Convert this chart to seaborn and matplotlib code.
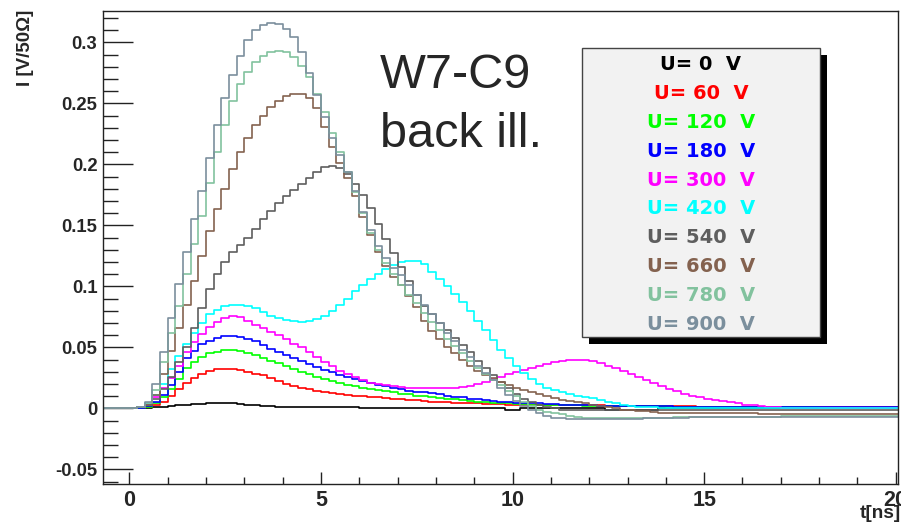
import numpy as np
import pandas as pd
import matplotlib
matplotlib.use("Agg")
import matplotlib.pyplot as plt
from matplotlib.patches import Rectangle
from matplotlib.ticker import MultipleLocator, FuncFormatter
import seaborn as sns

# Histogram bin centres (0.2 ns bins), time in ns
t_ns = np.round(-0.7 + 0.2 * np.arange(105), 2)

bias_V = [0, 60, 120, 180, 300, 420, 540, 660, 780, 900]
colors = ["#000000", "#ff0000", "#00ff00", "#0000ff", "#ff00ff",
          "#00ffff", "#5e5e5e", "#84624f", "#82c29e", "#7b8f9d"]

# Induced current per bin, in mV across 50 Ohm
i_0V = [0, 0, 0, 0,
        0, 0, 0.5, 1, 1.5, 2, 2.5, 3, 3.5, 3.5,
        4, 4, 4, 4, 3.5, 3, 2.5, 2, 2, 1.5,
        1.5, 1.5, 1, 1, 1, 1, 1, 1, 1, 1,
        0.5, 0.5, 0.5, 0.5, 0.5, 0.5, 0.5, 0.5, 0.5, 0.5,
        0.5, 0.5, 0.5, 0.5, 0.5, 0.5, 0.5, 0.5, 0.5, -1.5,
        -1.5, 0, 0.5, 0, 0, 0, 0, 0, 0, 0,
        0, 0, -1.5, -1.5, -1.5, -1.5, -1.5, -1.5, -1.5, 0,
        0, 0, 0, 0, 0, 0, 0, 0, 0, 0,
        0.5, 0.5, 0.5, 0.5, 0.5, 0, 0, 0, 0, 0,
        0, 0, 0, 0, 0, 0, 0, 0, 0, 0,
        0]
i_60V = [0, 0, 0, 0,
         0, 0, 1, 2.5, 5.5, 10, 15.5, 21, 25, 28,
         30.5, 32, 32.5, 32.5, 31.5, 30, 28.5, 27, 25, 22.5,
         20, 18, 16.5, 15.5, 14.5, 13.5, 12.5, 11.5, 11, 10.5,
         10, 9.5, 9, 8.5, 8, 7.5, 7, 6.5, 6, 5.5,
         5, 5, 4.5, 4.5, 4, 4, 3.5, 3.5, 3.5, 3,
         3, 3, 2.5, 2.5, 2.5, 2.5, 2.5, 2.5, 2.5, 2.5,
         2.5, 2.5, 2, 2, 2, 2, 2, 2, 2, 2,
         2, 2, 2, 2, 1.5, 1.5, 1.5, 1.5, 1.5, 1.5,
         1.5, 1.5, 1.5, 1.5, 1, 1, 1, 1, 1, 1,
         1, 1, 1, 1, 1, 1, 1, 1, 1, 1,
         1]
i_120V = [0, 0, 0, 0,
          0, 0.5, 1.5, 4, 9, 15.5, 24, 33, 38, 42.5,
          45, 46.5, 48, 48, 47, 45.5, 43.5, 41.5, 39, 37,
          35, 32.5, 30, 28, 26, 24, 22.5, 21, 19.5, 18,
          17, 16, 15, 14, 13, 12, 11.5, 10.5, 10, 9.5,
          8.5, 8, 7.5, 6.5, 6, 5.5, 5, 4.5, 4, 4,
          3.5, 3.5, 3, 3, 3, 2.5, 2.5, 2.5, 2.5, 2,
          2, 2, 2, 2, 2, 2, 2, 2, 2, 2,
          1.5, 1.5, 1.5, 1.5, 1.5, 1.5, 1.5, 1.5, 1.5, 1.5,
          1, 1, 1, 1, 1, 1, 1, 1, 1, 1,
          0.5, 0.5, 0.5, 0.5, 0.5, 0.5, 0.5, 0.5, 0.5, 0.5,
          0.5]
i_180V = [0, 0, 0, 0,
          0, 0.5, 2, 5, 11, 19, 30, 41, 47, 52.5,
          55.5, 58, 59.5, 59.5, 58.5, 57, 55, 52, 49, 46.5,
          44, 41.5, 39, 36.5, 34, 31.5, 29.5, 27.5, 25.5, 24,
          22.5, 21, 19.5, 18.5, 16.5, 15.5, 14.5, 13.5, 13, 12.5,
          11.5, 10.5, 9.5, 9, 8, 7.5, 7, 6, 5.5, 5,
          4.5, 4.5, 4, 4, 3.5, 3.5, 3, 3, 2.5, 2.5,
          2.5, 2, 2, 2, 2, 2, 2, 2, 2, 2,
          2, 1.5, 1.5, 1.5, 1.5, 1.5, 1.5, 1.5, 1.5, 1.5,
          1.5, 1.5, 1.5, 1.5, 1.5, 1, 1, 1, 1, 1,
          1, 1, 1, 1, 1, 1, 1, 1, 1, 1,
          1]
i_300V = [0, 0, 0, 0,
          0, 1, 3.5, 9, 17, 25, 35, 46, 54, 61,
          67, 71, 74, 75.5, 74.5, 72, 68.5, 65.5, 62.5, 60,
          56.5, 53, 50, 46, 42, 38, 34.5, 31, 28, 25.5,
          23, 21, 20, 19, 18, 17.5, 17, 17, 17, 17,
          17, 17, 17, 17.5, 18.5, 20, 22, 24, 26, 28,
          30, 31.5, 33, 35, 36.5, 38, 39, 39.5, 39.5, 39.5,
          38.5, 37, 35, 33, 30.5, 28, 25.5, 23.5, 21, 18.5,
          16, 14, 12, 10.5, 9, 8, 7, 6, 5, 4,
          3, 2.5, 2, 1.5, 1, 0.5, 0.5, 0.5, 0.5, 0.5,
          0.5, 0.5, 0, 0, 0, 0, 0, 0, 0, 0,
          0]
i_420V = [0, 0, 0, 0,
          0, 1, 4, 11, 20, 32, 43, 53, 62, 70,
          77, 81, 84, 85, 85, 84, 82.5, 79, 76, 74,
          72.5, 71.5, 71, 71.5, 73, 76, 80, 85, 90, 96,
          101, 106, 110, 114, 117.5, 120, 121, 121, 118, 112,
          106, 100, 94, 87, 80, 72, 64, 56, 48, 41,
          35, 29, 24, 20, 17, 15, 13.5, 12, 10.5, 9.5,
          8.5, 7, 5.5, 4, 3, 2, 1.5, 1, 1, 0.5,
          0.5, 0.5, 0.5, 0.5, 0.5, 0.5, 0.5, 0.5, 0.5, 0.5,
          0.5, 0.5, 0.5, 0, 0, 0, 0, 0, 0, 0,
          0, 0, 0, 0, 0, 0, 0, 0, 0, 0,
          0]
i_540V = [0, 0, 0, 0,
          0, 1, 3, 8, 16, 26, 38, 50, 66, 82,
          98, 110, 120, 128, 134, 140, 147, 155, 162, 168,
          174, 179, 184, 189, 194, 198, 199, 197, 192, 184,
          175, 164, 151, 139, 127, 116, 104, 93, 84, 77,
          70, 64, 58, 52, 46, 39, 33, 27, 22, 17,
          12, 8, 5, 3, 1, 0, -1, -1, -1.5, -1.5,
          -1.5, -1.5, -1.5, -1.5, -1.5, -1.5, -1.5, -1.5, -1.5, -1.5,
          -1.5, -1.5, -1, -1, -1, -1, -1, -1, -1, -1,
          -1, -1, -1, -1, -1, -1, -1, -1, -1, -1,
          -1, -1, -1, -1, -1, -1, -1, -1, -1, -1,
          -1]
i_660V = [0, 0, 0, 0,
          0, 1, 3, 11, 28, 47, 66, 85, 104, 125,
          145, 163, 180, 196, 210, 222, 232, 240, 247, 252,
          256, 258, 258, 254, 246, 231, 214, 201, 189, 174,
          157, 142, 128, 117, 108, 101, 92, 83, 72, 63,
          57, 50, 45, 40, 35, 31, 27.5, 24.5, 21.5, 19,
          17, 15, 13.5, 12, 10, 8.5, 7, 6, 5, 4,
          3, 2, 1, 0, -1, -1.5, -2, -2.5, -3, -3.5,
          -4, -4, -4, -4, -4, -4, -4, -4, -4, -4,
          -4, -4, -4.5, -4.5, -4.5, -4.5, -4.5, -4.5, -4.5, -4.5,
          -4.5, -4.5, -4.5, -4.5, -4.5, -4.5, -4.5, -4.5, -4.5, -4.5,
          -4.5]
i_780V = [0, 0, 0, 0,
          0, 1, 4, 15, 38, 62, 84, 110, 135, 158,
          185, 210, 232, 252, 266, 276, 284, 289, 292, 293,
          292, 288, 281, 272, 258, 243, 226, 210, 194, 177,
          160, 144, 130, 119, 110, 101, 93, 86, 78, 71,
          64, 57, 51, 45, 39, 33, 28, 23, 19, 14,
          10, 5, 2, -1, -3, -4, -5, -6, -7, -7.5,
          -7.5, -7.5, -7.5, -7.5, -7.5, -7.5, -7.5, -7.5, -7.5, -7.5,
          -7.5, -7, -7, -7, -7, -7, -7, -7, -7, -7,
          -7, -7, -7, -7, -7, -6.5, -6.5, -6.5, -6.5, -6.5,
          -6.5, -6.5, -6.5, -6.5, -6.5, -6.5, -6.5, -6.5, -6.5, -6.5,
          -6.5]
i_900V = [0, 0, 0, 0,
          0, 1, 5, 20, 46, 74, 102, 128, 155, 178,
          205, 232, 254, 273, 289, 302, 310, 314, 316, 315,
          311, 304, 292, 275, 257, 239, 222, 208, 194, 178,
          161, 146, 133, 123, 115, 109, 101, 93, 85, 77,
          70, 62, 55, 48, 42, 35, 29, 23, 17, 11,
          6, 2, -1, -4, -6, -7.5, -8, -8.5, -8.5, -8.5,
          -8.5, -8.5, -8.5, -8.5, -8.5, -8.5, -8.5, -8, -8, -7.5,
          -7.5, -7.5, -7.5, -7, -7, -7, -7, -7, -7, -7,
          -7, -7, -7, -7, -7, -7, -7, -7, -7, -7,
          -7, -7, -7, -7, -7, -7, -7, -7, -7, -7,
          -7]

currents_mV = [i_0V, i_60V, i_120V, i_180V, i_300V,
               i_420V, i_540V, i_660V, i_780V, i_900V]
labels = [f"U= {u}  V" for u in bias_V]

frames = []
for lab, vals in zip(labels, currents_mV):
    frames.append(pd.DataFrame({"t": t_ns, "I": np.asarray(vals) / 1000.0, "U": lab}))
df = pd.concat(frames, ignore_index=True)

sns.set_style("white")
plt.rcParams["font.family"] = ["Liberation Sans", "DejaVu Sans"]
plt.rcParams["font.weight"] = "bold"

W, H = 901, 522
fig = plt.figure(figsize=(W / 100, H / 100), dpi=100)
ax_l, ax_r, ax_t, ax_b = 103, 898, 11, 484
ax = fig.add_axes([ax_l / W, 1 - ax_b / H, (ax_r - ax_l) / W, (ax_b - ax_t) / H])

sns.lineplot(data=df, x="t", y="I", hue="U", hue_order=labels,
             palette=dict(zip(labels, colors)), estimator=None, sort=False,
             drawstyle="steps-mid", linewidth=1.2, legend=False, ax=ax)

ax.set_xlim(-0.69, 20.06)
ax.set_ylim(-0.062, 0.3257)
ax.set_xlabel("")
ax.set_ylabel("")

for side in ["left", "right", "top", "bottom"]:
    ax.spines[side].set_color("#222222")
    ax.spines[side].set_linewidth(1.0)

ax.xaxis.set_major_locator(MultipleLocator(5))
ax.xaxis.set_minor_locator(MultipleLocator(1))
ax.yaxis.set_major_locator(MultipleLocator(0.05))
ax.yaxis.set_minor_locator(MultipleLocator(0.01))
ax.yaxis.set_major_formatter(FuncFormatter(lambda v, p: f"{v:g}" if abs(v) > 1e-9 else "0"))
ax.xaxis.set_major_formatter(FuncFormatter(lambda v, p: f"{v:g}"))

ax.tick_params(axis="y", which="major", direction="in", length=21.5, width=1.0,
               color="#222222", labelsize=13.3, pad=4, left=True, right=False)
ax.tick_params(axis="y", which="minor", direction="in", length=10.8, width=1.0,
               color="#222222", left=True, right=False)
ax.tick_params(axis="x", which="major", direction="in", length=8.6, width=1.0,
               color="#222222", labelsize=15.5, pad=4, bottom=True, top=False)
ax.tick_params(axis="x", which="minor", direction="in", length=5, width=1.0,
               color="#222222", bottom=True, top=False)

# Axis titles
fig.text(25.5 / W, 1 - 10 / H, "I [V/50\u03a9]", rotation=90, ha="center", va="top",
         fontsize=13.5, fontweight="bold")
fig.text(901 / W, 1 - 518 / H, "t[ns]", ha="right", va="baseline",
         fontsize=13.7, fontweight="bold")

# Sample annotation
fig.text(380 / W, 1 - 88 / H, "W7-C9", ha="left", va="baseline",
         fontsize=35, fontweight="normal")
fig.text(380 / W, 1 - 146.7 / H, "back ill.", ha="left", va="baseline",
         fontsize=35, fontweight="normal")

# Legend box with drop shadow
bx0, by0, bx1, by1 = 581.7, 47.7, 820.0, 337.0
shadow = Rectangle(((bx0 + 7) / W, 1 - (by1 + 7) / H), (bx1 - bx0) / W, (by1 - by0) / H,
                   transform=fig.transFigure, facecolor="black", edgecolor="none", zorder=5)
box = Rectangle((bx0 / W, 1 - by1 / H), (bx1 - bx0) / W, (by1 - by0) / H,
                transform=fig.transFigure, facecolor="#f2f2f2", edgecolor="#444444",
                linewidth=1.0, zorder=6)
fig.add_artist(shadow)
fig.add_artist(box)
for k, (lab, col) in enumerate(zip(labels, colors)):
    fig.text((bx0 + bx1) / 2 / W, 1 - (70 + 28.9 * k) / H, lab, ha="center", va="baseline",
             color=col, fontsize=14, fontweight="bold", zorder=7,
             family=["DejaVu Sans"])

fig.savefig("out.png", dpi=100, facecolor="white")
